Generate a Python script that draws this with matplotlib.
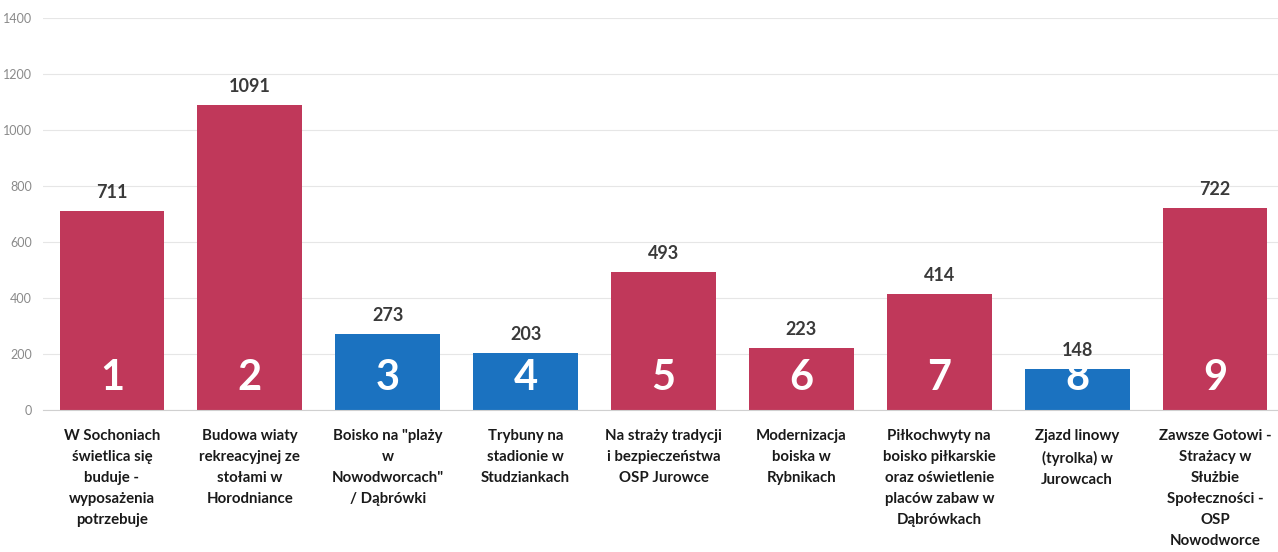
import numpy as np
import matplotlib
matplotlib.use('Agg')
import matplotlib.pyplot as plt

plt.rcParams['font.family'] = ['Lato', 'DejaVu Sans']

# dane z wykresu
labels = [
    "W Sochoniach\nświetlica się\nbuduje -\nwyposażenia\npotrzebuje",
    "Budowa wiaty\nrekreacyjnej ze\nstołami w\nHorodniance",
    'Boisko na "plaży\nw\nNowodworcach"\n/ Dąbrówki',
    "Trybuny na\nstadionie w\nStudziankach",
    "Na straży tradycji\ni bezpieczeństwa\nOSP Jurowce",
    "Modernizacja\nboiska w\nRybnikach",
    "Piłkochwyty na\nboisko piłkarskie\noraz oświetlenie\nplaców zabaw w\nDąbrówkach",
    "Zjazd linowy\n(tyrolka) w\nJurowcach",
    "Zawsze Gotowi -\nStrażacy w\nSłużbie\nSpołeczności -\nOSP\nNowodworce",
]
numbers = ['1', '2', '3', '4', '5', '6', '7', '8', '9']
votes = [711, 1091, 273, 203, 493, 223, 414, 148, 722]
group = ['r', 'r', 'b', 'b', 'r', 'r', 'r', 'b', 'r']

red = '#c0385a'
blue = '#1b72c0'
colors = [red if g == 'r' else blue for g in group]

fig = plt.figure(figsize=(12.78, 5.52), dpi=100)
ax = fig.add_axes([43 / 1278, 142 / 552, 1241 / 1278, 392 / 552])

x = np.arange(len(votes))
bars = ax.bar(x, votes, width=0.76, color=colors, zorder=2)

for i, b in enumerate(bars):
    ax.annotate(str(votes[i]), (b.get_x() + b.get_width() / 2, votes[i]),
                xytext=(0, 7), textcoords='offset points', ha='center', va='bottom',
                fontsize=13, fontweight='bold', color='#3a3a3a')
    ax.annotate(numbers[i], (b.get_x() + b.get_width() / 2, 0),
                xytext=(0, 23), textcoords='offset points', ha='center', va='center',
                fontsize=30, fontweight='bold', color='white')

ax.set_xlim(-0.5, len(votes) - 0.5)
ax.set_ylim(0, 1400)
ax.set_yticks(np.arange(0, 1401, 200))
ax.set_xticks(x)
ax.set_xticklabels(labels, fontsize=10.8, fontweight='bold', color='#1a1a1a', linespacing=1.62)
ax.tick_params(axis='x', length=0, pad=14)
ax.tick_params(axis='y', length=0, pad=8, labelsize=9, labelcolor='#8a8a8a')

ax.grid(axis='y', color='#e6e6e6', linewidth=0.8, zorder=0)
for s in ['top', 'right', 'left']:
    ax.spines[s].set_visible(False)
ax.spines['bottom'].set_color('#d0d0d0')

fig.savefig('out.png', dpi=100)
